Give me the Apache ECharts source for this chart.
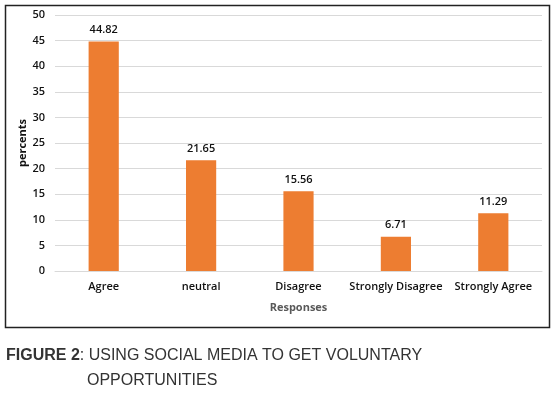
<!DOCTYPE html>
<html>
<head>
<meta charset="utf-8">
<script src="https://cdn.jsdelivr.net/npm/echarts@6/dist/echarts.min.js"></script>
<style>
  html, body { margin: 0; padding: 0; background: #fff; }
  #chart { width: 554px; height: 394px; }
</style>
</head>
<body>
<div id="chart"></div>
<script>
const categories = ['Agree', 'neutral', 'Disagree', 'Strongly Disagree', 'Strongly Agree']
const percents = [44.82, 21.65, 15.56, 6.71, 11.29]
const yTicks = [0, 5, 10, 15, 20, 25, 30, 35, 40, 45, 50]

const chart = echarts.init(document.getElementById('chart'))

const option = {
  animation: false,
  backgroundColor: '#fff',
  textStyle: { fontFamily: 'Open Sans, Liberation Sans, sans-serif' },
  grid: {
    left: 55,
    right: 12,
    top: 15,
    bottom: 123
  },
  xAxis: {
    type: 'category',
    data: categories,
    name: 'Responses',
    nameLocation: 'middle',
    nameGap: 31,
    nameMoveOverlap: false,
    nameTextStyle: { color: '#595959', fontSize: 11, fontWeight: 'bold' },
    axisLine: { lineStyle: { color: '#d9d9d9', width: 1 } },
    axisTick: { show: false },
    axisLabel: { color: '#111', fontSize: 11, fontWeight: 600, margin: 10, interval: 0 }
  },
  yAxis: {
    type: 'value',
    min: yTicks[0],
    max: yTicks[yTicks.length - 1],
    interval: 5,
    name: 'percents',
    nameLocation: 'middle',
    nameGap: 27,
    nameMoveOverlap: false,
    nameTextStyle: { color: '#111', fontSize: 11, fontWeight: 'bold' },
    axisLine: { show: false },
    axisTick: { show: false },
    axisLabel: { color: '#111', fontSize: 11, fontWeight: 600, margin: 10 },
    splitLine: { lineStyle: { color: '#d9d9d9', width: 1 } }
  },
  series: [
    {
      type: 'bar',
      data: percents,
      barWidth: '31%',
      itemStyle: { color: '#ed7d31' },
      label: {
        show: true,
        position: 'top',
        distance: 6,
        color: '#111',
        fontSize: 11,
        fontWeight: 600
      }
    }
  ],
  graphic: [
    {
      type: 'rect',
      shape: { x: 5.5, y: 5.5, width: 544, height: 322 },
      style: { fill: null, stroke: '#222', lineWidth: 1.5 },
      silent: true
    },
    {
      type: 'text',
      left: 6,
      top: 348,
      style: {
        text: '{b|FIGURE 2}: USING SOCIAL MEDIA TO GET VOLUNTARY',
        fill: '#333',
        font: '16px Liberation Sans, Arial, sans-serif',
        rich: { b: { fontWeight: 'bold', fontSize: 16, fill: '#333', fontFamily: 'Liberation Sans' } }
      }
    },
    {
      type: 'text',
      left: 87,
      top: 373,
      style: {
        text: 'OPPORTUNITIES',
        fill: '#333',
        font: '16px Liberation Sans, Arial, sans-serif'
      }
    }
  ]
}

chart.setOption(option)
</script>
</body>
</html>
